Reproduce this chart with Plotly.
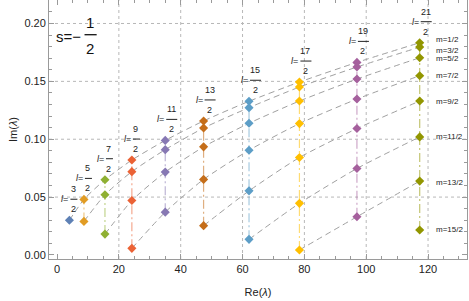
import plotly.graph_objects as go

# ---------------- data ----------------
L_NUMERATORS = [3, 5, 7, 9, 11, 13, 15, 17, 19, 21]          # l = n/2
RE_LAMBDA = [4.0, 8.7, 15.5, 24.2, 35.0, 47.4, 62.1, 78.4, 97.0, 117.3]
IM_LAMBDA = [
    [0.0300],
    [0.0480, 0.0290],
    [0.0650, 0.0520, 0.0180],
    [0.0820, 0.0720, 0.0470, 0.0057],
    [0.0990, 0.0910, 0.0716, 0.0370],
    [0.1158, 0.1097, 0.0934, 0.0653, 0.0253],
    [0.1328, 0.1273, 0.1138, 0.0905, 0.0554, 0.0135],
    [0.1494, 0.1451, 0.1330, 0.1135, 0.0842, 0.0446, 0.0043],
    [0.1664, 0.1624, 0.1520, 0.1347, 0.1092, 0.0747, 0.0330],
    [0.1834, 0.1796, 0.1704, 0.1549, 0.1330, 0.1020, 0.0638, 0.0216],
]
M_LABELS = ["m=1/2", "m=3/2", "m=5/2", "m=7/2", "m=9/2", "m=11/2", "m=13/2", "m=15/2"]
X_TICKS = [0, 20, 40, 60, 80, 100, 120]
Y_TICKS = [0.00, 0.05, 0.10, 0.15, 0.20]
X_GRID = [20, 40, 60, 80, 100, 120]
Y_GRID = [0.05, 0.10, 0.15, 0.20]

# ---------------- style ----------------
COLORS = ["#5E81B5", "#E19C24", "#8FB032", "#EB6235", "#8778B3",
          "#C56E1A", "#5D9EC7", "#FFBF00", "#A5609D", "#929600"]
M_LABEL_NUDGE = [3, -3, -1, 0, 0, 0, -1, 0]
FONT = "Liberation Sans, Arial, sans-serif"
FRAME = "#9a9a9a"


def rgba(hexc, a):
    h = hexc.lstrip("#")
    r, g, b = int(h[0:2], 16), int(h[2:4], 16), int(h[4:6], 16)
    return f"rgba({r},{g},{b},{a})"


fig = go.Figure()

# gray dashed curves connecting equal m
n_m = max(len(c) for c in IM_LAMBDA)
for k in range(n_m):
    xs = [RE_LAMBDA[i] for i in range(len(RE_LAMBDA)) if len(IM_LAMBDA[i]) > k]
    ys = [IM_LAMBDA[i][k] for i in range(len(RE_LAMBDA)) if len(IM_LAMBDA[i]) > k]
    if len(xs) > 1:
        fig.add_trace(go.Scatter(
            x=xs, y=ys, mode="lines", line=dict(color="#a0a0a0", width=1, dash="6px,4px",
                                                shape="spline", smoothing=0.6),
            hoverinfo="skip", showlegend=False))

# vertical dash-dot lines and markers per l
for i, (re, ims) in enumerate(zip(RE_LAMBDA, IM_LAMBDA)):
    if len(ims) > 1:
        fig.add_trace(go.Scatter(
            x=[re, re], y=[min(ims), max(ims)], mode="lines",
            line=dict(color=rgba(COLORS[i], 0.55), width=1.2, dash="9px,3px,2px,3px"),
            hoverinfo="skip", showlegend=False))
    fig.add_trace(go.Scatter(
        x=[re] * len(ims), y=ims, mode="markers",
        marker=dict(symbol="diamond", size=7, color=COLORS[i], line=dict(width=0)),
        showlegend=False))

annotations = []
shapes = []

# grid
for gx in X_GRID:
    shapes.append(dict(type="line", xref="x", yref="paper", x0=gx, x1=gx, y0=0, y1=1,
                       line=dict(color="#b8b8b8", width=1, dash="dot"), layer="below"))
for gy in Y_GRID:
    shapes.append(dict(type="line", xref="paper", yref="y", x0=0, x1=1, y0=gy, y1=gy,
                       line=dict(color="#b8b8b8", width=1, dash="dot"), layer="below"))

# l = n/2 labels
for i, (re, ims) in enumerate(zip(RE_LAMBDA, IM_LAMBDA)):
    top = max(ims)
    n = L_NUMERATORS[i]
    w = 7 if n < 10 else 11
    annotations.append(dict(x=re, y=top, xref="x", yref="y", text="<i>l</i>=",
                            showarrow=False, xanchor="right", yanchor="middle",
                            xshift=1, yshift=21, font=dict(size=9, color="#222", family=FONT)))
    annotations.append(dict(x=re, y=top, xref="x", yref="y", text=str(n),
                            showarrow=False, xanchor="center", yanchor="middle",
                            xshift=w / 2 + 0.5, yshift=31, font=dict(size=9, color="#222", family=FONT)))
    annotations.append(dict(x=re, y=top, xref="x", yref="y", text="2",
                            showarrow=False, xanchor="center", yanchor="middle",
                            xshift=w / 2 + 0.5, yshift=11, font=dict(size=9, color="#222", family=FONT)))
    shapes.append(dict(type="line", xref="x", yref="y", xsizemode="pixel", ysizemode="pixel",
                       xanchor=re, yanchor=top, x0=1, x1=1 + w, y0=21, y1=21,
                       line=dict(color="#222", width=1)))

# m labels
last_re = RE_LAMBDA[-1]
for k, lab in enumerate(M_LABELS):
    annotations.append(dict(x=last_re, y=IM_LAMBDA[-1][k], xref="x", yref="y", text=lab,
                            showarrow=False, xanchor="left", yanchor="middle",
                            xshift=14, yshift=M_LABEL_NUDGE[k],
                            font=dict(size=8, color="#222", family=FONT)))

# s = -1/2
annotations.append(dict(x=0.012, y=0.861, xref="paper", yref="paper", text="s=−",
                        showarrow=False, xanchor="left", yanchor="middle",
                        font=dict(size=15, color="#111", family=FONT)))
annotations.append(dict(x=0.098, y=0.913, xref="paper", yref="paper", text="1",
                        showarrow=False, xanchor="center", yanchor="middle",
                        font=dict(size=15, color="#111", family=FONT)))
annotations.append(dict(x=0.098, y=0.811, xref="paper", yref="paper", text="2",
                        showarrow=False, xanchor="center", yanchor="middle",
                        font=dict(size=15, color="#111", family=FONT)))
shapes.append(dict(type="line", xref="paper", yref="paper", x0=0.085, x1=0.114,
                   y0=0.866, y1=0.866, line=dict(color="#111", width=1.3)))

axis_common = dict(showline=True, mirror="ticks", linecolor=FRAME, linewidth=1,
                   ticks="inside", tickcolor=FRAME, ticklen=5, showgrid=False, zeroline=False,
                   tickfont=dict(size=11, color="#222", family=FONT))

fig.update_layout(
    width=469, height=301,
    margin=dict(l=49, r=2, t=0, b=42),
    plot_bgcolor="white", paper_bgcolor="white",
    showlegend=False,
    xaxis=dict(range=[-2.6, 132.6], tickvals=X_TICKS,
               minor=dict(dtick=5, ticks="inside", ticklen=3, tickcolor=FRAME, showgrid=False),
               title=dict(text="Re(<i>λ</i>)", font=dict(size=11, color="#222", family=FONT),
                          standoff=14),
               **axis_common),
    yaxis=dict(range=[-0.0035, 0.2203], tickvals=Y_TICKS, tickformat=".2f",
               minor=dict(dtick=0.01, tick0=0, ticks="inside", ticklen=3, tickcolor=FRAME,
                          showgrid=False),
               title=dict(text="Im(<i>λ</i>)", font=dict(size=11, color="#222", family=FONT),
                          standoff=4),
               **axis_common),
    annotations=annotations,
    shapes=shapes,
)

fig.write_html("out.html", config={"displayModeBar": False},
               post_script="document.body.style.margin='0';")
